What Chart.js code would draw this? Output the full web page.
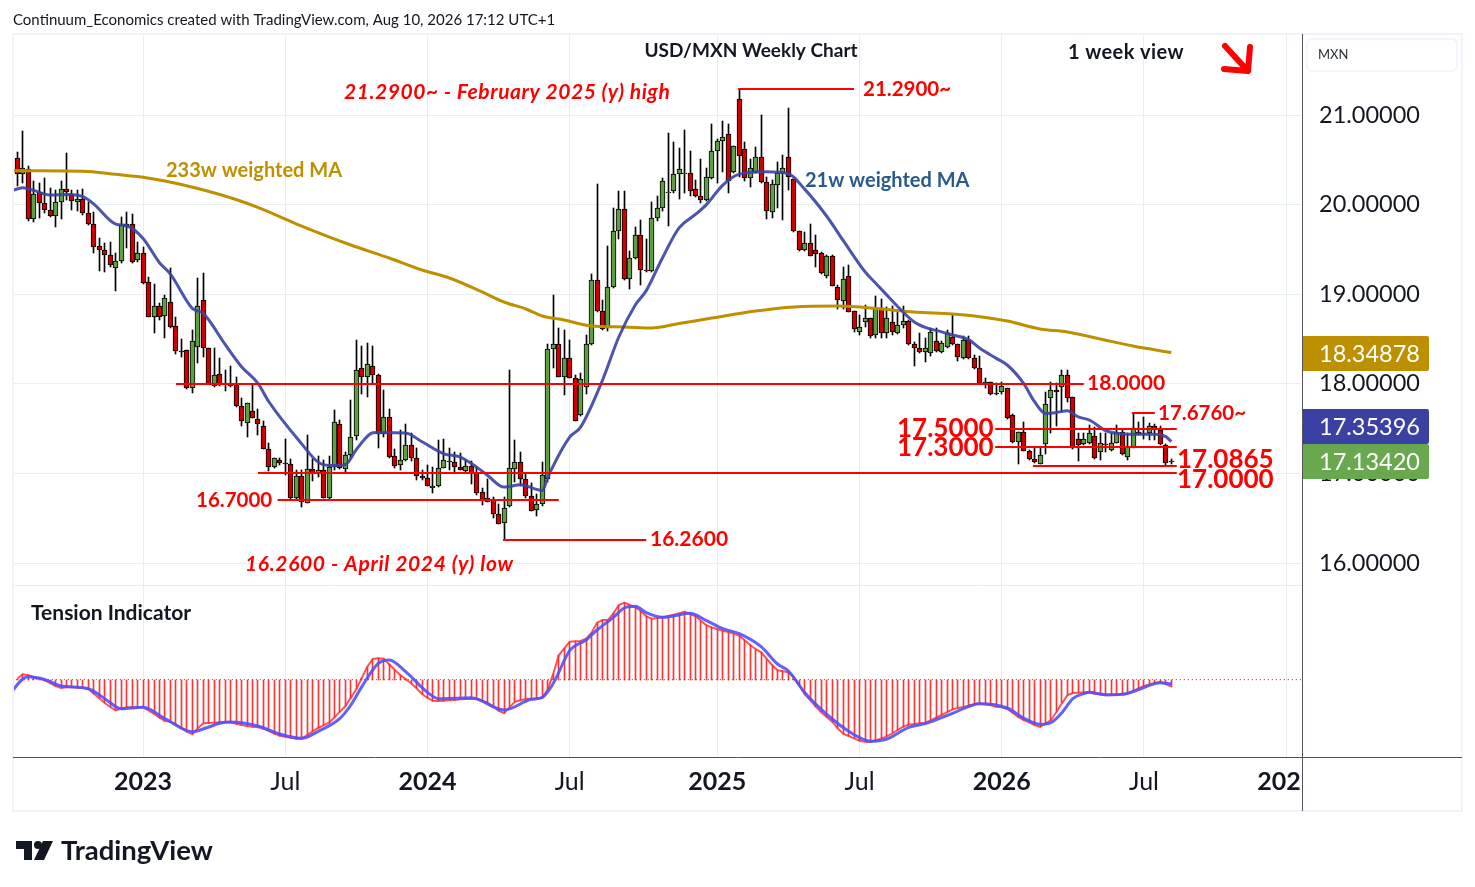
<!DOCTYPE html>
<html><head><meta charset="utf-8">
<style>html,body{margin:0;padding:0;background:#fff;overflow:hidden}canvas{display:block}</style>
<script src="https://cdn.jsdelivr.net/npm/chart.js@4/dist/chart.umd.js"></script>
</head><body><canvas id="c" width="1475" height="887"></canvas>
<script>
const FONT='Lato';
const open=[20.516,20.341,20.397,19.835,20.144,20.014,19.936,19.876,20.025,20.177,
20.122,20.025,20.058,19.91,19.779,19.534,19.489,19.433,19.288,19.374,
19.746,19.779,19.378,19.456,19.132,18.749,18.864,18.753,18.909,18.641,
18.37,18.373,17.949,18.407,18.931,18.396,17.972,18.105,18.005,17.988,
17.986,17.748,17.559,17.693,17.603,17.525,17.268,17.068,17.146,17.112,
17.107,16.724,16.973,16.672,17.052,16.988,17.04,16.724,17.074,17.554,
17.052,17.208,17.42,18.179,18.078,18.201,18.101,17.442,17.632,17.197,
17.093,17.152,17.319,17.174,16.973,16.951,16.836,16.862,17.063,17.135,
17.13,17.074,17.029,17.085,17.007,16.795,16.683,16.713,16.549,16.449,
16.631,17.048,17.13,16.94,16.75,16.594,16.661,16.936,18.391,18.447,
18.078,18.29,18.067,17.654,17.96,18.44,19.154,18.808,18.619,19.076,
19.701,19.947,19.165,19.4,19.656,19.266,19.255,19.846,19.958,20.125,
20.148,20.337,20.337,20.348,20.17,20.092,20.047,20.293,20.594,20.706,
20.784,20.367,21.178,20.616,20.293,20.36,20.527,20.248,19.913,20.214,
20.348,20.527,20.281,19.701,19.489,19.567,19.489,19.455,19.199,19.422,
19.076,18.928,19.203,18.809,18.574,18.693,18.731,18.541,18.842,18.563,
18.686,18.563,18.652,18.697,18.44,18.396,18.351,18.34,18.474,18.359,
18.407,18.519,18.44,18.284,18.485,18.284,18.173,17.998,18.024,17.895,
17.905,17.95,17.648,17.347,17.459,17.254,17.157,17.109,17.325,17.845,
17.927,17.968,18.098,17.849,17.38,17.325,17.343,17.414,17.235,17.33,
17.261,17.343,17.459,17.187,17.295,17.459,17.455,17.451,17.533,17.485,
17.317,17.14];
const close=[20.341,20.412,19.835,20.114,20.014,19.936,19.876,20.025,20.17,20.137,
20.036,20.058,19.91,19.779,19.523,19.489,19.433,19.322,19.374,19.768,
19.779,19.355,19.456,19.121,18.749,18.864,18.742,18.954,18.63,18.362,
18.358,17.949,18.474,18.864,18.396,17.998,18.094,17.983,17.995,17.978,
17.748,17.581,17.782,17.614,17.547,17.276,17.068,17.168,17.112,17.102,
16.724,16.973,16.676,17.052,16.996,17.04,16.724,17.074,17.576,17.063,
17.208,17.409,18.156,18.078,18.22,18.101,17.442,17.632,17.186,17.085,
17.152,17.319,17.171,16.973,16.951,16.858,16.862,17.063,17.152,17.125,
17.074,17.04,17.085,17.007,16.784,16.706,16.728,16.549,16.438,16.616,
17.063,17.13,16.94,16.75,16.583,16.661,16.985,18.391,18.447,18.078,
18.29,18.067,17.587,18.05,18.444,19.154,18.808,18.615,19.076,19.701,
19.947,19.165,19.4,19.656,19.266,19.262,19.846,19.958,20.259,20.144,
20.337,20.393,20.356,20.148,20.092,20.047,20.311,20.594,20.706,20.75,
20.259,20.65,20.538,20.293,20.404,20.527,20.252,19.924,20.226,20.348,
20.404,20.304,19.701,19.489,19.567,19.43,19.452,19.232,19.422,19.095,
18.931,19.166,18.805,18.615,18.63,18.731,18.537,18.842,18.563,18.731,
18.574,18.652,18.697,18.44,18.396,18.351,18.396,18.574,18.362,18.452,
18.563,18.444,18.295,18.485,18.284,18.173,18.001,18.024,17.89,17.885,
17.972,17.615,17.347,17.459,17.254,17.157,17.124,17.206,17.771,17.927,
17.905,18.098,17.845,17.287,17.317,17.38,17.451,17.168,17.336,17.32,
17.343,17.459,17.213,17.291,17.503,17.44,17.445,17.533,17.485,17.325,
17.113,17.134];
const high=[20.583,20.821,20.434,20.263,20.237,20.293,20.181,20.163,20.263,20.576,
20.163,20.163,20.174,20.032,19.913,19.623,19.567,19.586,19.456,19.858,
19.913,19.891,19.579,19.53,19.195,19.114,18.905,18.987,19.288,18.742,
18.503,18.373,18.6,19.181,19.233,18.396,18.396,18.284,18.154,18.198,
18.072,17.838,17.782,17.983,17.715,17.588,17.335,17.17,17.168,17.386,
17.163,17.04,17.033,17.424,17.163,17.197,17.145,17.197,17.703,17.591,
17.241,17.814,18.484,18.417,18.461,18.417,18.112,17.933,17.721,17.267,
17.487,17.554,17.453,17.286,17.033,17.096,17.066,17.375,17.379,17.279,
17.238,17.223,17.145,17.133,17.07,16.84,16.94,16.735,16.661,16.735,
18.149,17.375,17.241,16.996,16.895,16.773,17.122,18.447,18.986,18.625,
18.595,18.484,18.093,18.12,18.545,19.225,20.229,18.935,19.537,19.958,
20.151,20.151,19.485,19.753,19.828,19.612,20.032,20.095,20.293,20.802,
20.698,20.627,20.832,20.598,20.274,20.508,20.404,20.899,20.728,20.929,
20.895,20.657,21.29,20.698,20.512,20.639,20.999,20.311,20.274,20.479,
20.553,21.074,20.289,19.709,19.697,19.783,19.66,19.467,19.441,19.437,
19.102,19.3,19.33,18.809,18.768,18.879,18.731,18.98,18.943,18.861,
18.868,18.805,18.868,18.712,18.47,18.563,18.507,18.619,18.619,18.481,
18.6,18.764,18.444,18.533,18.533,18.321,18.31,18.061,18.024,18.005,
18.024,17.957,17.659,17.466,17.57,17.261,17.28,17.299,17.912,18.024,
18.013,18.154,18.154,17.849,17.447,17.455,17.54,17.522,17.447,17.447,
17.447,17.54,17.485,17.447,17.678,17.578,17.633,17.559,17.548,17.529,
17.332,17.157];
const low=[20.211,20.244,19.82,19.809,19.85,19.91,19.865,19.753,19.843,20.051,
19.939,19.925,19.887,19.776,19.463,19.262,19.247,19.3,19.039,19.344,
19.515,19.344,19.355,19.114,18.742,18.57,18.712,18.515,18.622,18.332,
18.303,17.945,17.901,18.236,18.303,17.998,17.968,17.975,17.923,17.96,
17.745,17.533,17.41,17.614,17.428,17.268,17.03,17.056,17.094,16.98,
16.713,16.698,16.624,16.668,16.914,16.959,16.72,16.713,17.033,17.052,
17.011,17.174,17.368,17.881,17.851,18.0,17.286,17.405,17.174,17.055,
17.033,17.144,17.137,16.921,16.93,16.854,16.78,16.847,17.055,17.033,
17.011,17.033,17.018,16.884,16.754,16.646,16.676,16.505,16.43,16.26,
16.624,16.899,16.854,16.728,16.575,16.52,16.635,16.907,18.179,18.075,
17.874,18.06,17.583,17.64,17.886,18.433,18.805,18.6,18.593,19.065,
19.612,19.158,19.061,19.392,19.102,19.251,19.247,19.82,19.928,19.764,
20.125,20.066,20.125,20.095,20.088,20.021,20.043,20.289,20.237,20.36,
20.133,20.348,20.311,20.267,20.2,20.348,20.244,19.842,19.854,19.958,
19.828,20.162,19.697,19.485,19.485,19.426,19.307,19.225,19.184,19.091,
18.831,18.83,18.805,18.578,18.545,18.63,18.515,18.507,18.507,18.507,
18.545,18.556,18.619,18.433,18.202,18.34,18.243,18.31,18.355,18.348,
18.396,18.437,18.258,18.28,18.28,18.169,17.998,17.949,17.875,17.875,
17.883,17.607,17.343,17.101,17.25,17.15,17.116,17.101,17.22,17.451,
17.529,17.689,17.793,17.272,17.139,17.317,17.332,17.16,17.15,17.235,
17.25,17.336,17.206,17.15,17.287,17.429,17.384,17.373,17.373,17.317,
17.094,17.11];
const ma233Weeks=[-1,0,12,18,23,27,33,40,44,49,52,61,68,74,79,85,89,93,96,100,103,105,111,116,121,127,135,142,150,158,164,171,175,181,187,192,198,204,211];
const ma233Vals=[20.38,20.378,20.372,20.338,20.305,20.263,20.18,20.057,19.968,19.839,19.761,19.549,19.404,19.27,19.181,19.025,18.913,18.835,18.757,18.712,18.667,18.645,18.634,18.623,18.673,18.734,18.812,18.857,18.868,18.835,18.801,18.779,18.757,18.701,18.612,18.578,18.5,18.422,18.349];
const ma21Weeks=[-1,1,3,6,9,12,14,18,20,23,26,28,32,34,38,41,44,46,52,55,57,60,62,65,66,71,74,78,81,84,86,89,92,96,97,101,103,107,110,113,115,118,121,124,126,129,132,137,141,144,148,151,155,157,159,161,164,166,169,171,174,176,179,181,184,186,188,190,192,194,196,199,201,204,208,210,211];
const ma21Vals=[20.155,20.189,20.159,20.107,20.114,20.088,20.006,19.783,19.764,19.623,19.351,19.225,18.842,18.786,18.44,18.191,18.005,17.8,17.33,17.126,17.089,17.1,17.267,17.453,17.457,17.45,17.353,17.219,17.182,17.07,16.977,16.847,16.873,16.81,16.958,17.405,17.517,18.04,18.525,18.879,19.04,19.41,19.74,19.89,20.0,20.218,20.34,20.367,20.345,20.17,19.87,19.6,19.25,19.12,18.99,18.86,18.69,18.63,18.58,18.545,18.49,18.396,18.284,18.21,18.005,17.8,17.67,17.68,17.7,17.63,17.596,17.477,17.447,17.436,17.436,17.41,17.354];
const tensionFast=[3,16,13,8,3,-2,-10,-19,-25,-23,
-22,-24,-25,-29,-42,-56,-70,-82,-92,-87,
-83,-83,-83,-83,-92,-103,-114,-124,-126,-134,
-145,-156,-164,-146,-131,-130,-129,-128,-127,-128,
-132,-136,-139,-141,-143,-147,-154,-162,-168,-171,
-174,-177,-177,-166,-155,-145,-137,-129,-113,-96,
-79,-54,-29,6,39,62,64,63,46,30,
14,2,-11,-26,-43,-55,-63,-64,-63,-62,
-61,-59,-58,-57,-58,-64,-70,-80,-93,-101,
-83,-66,-62,-58,-57,-56,-54,-28,18,73,
94,114,115,116,123,141,171,179,179,199,
224,231,224,217,206,190,183,185,187,191,
195,199,204,197,190,177,163,157,152,147,
143,138,132,118,104,92,82,63,44,28,
25,22,7,-17,-44,-62,-81,-98,-112,-126,
-146,-162,-169,-176,-183,-186,-187,-182,-176,-170,
-161,-151,-141,-135,-133,-131,-129,-122,-114,-106,
-98,-89,-85,-82,-78,-74,-71,-74,-77,-81,
-83,-88,-99,-112,-121,-128,-136,-142,-132,-121,
-97,-71,-47,-40,-39,-38,-39,-42,-44,-47,
-47,-46,-44,-42,-34,-26,-19,-14,-9,-8,
-13,-21];
const tensionSlowWeeks=[-1,1,2,5,8,13,16,19,23,27,32,35,37,39,44,48,52,55,59,61,63,66,68,71,75,77,83,89,94,96,98,101,104,106,107,109,111,113,115,118,120,123,126,129,132,136,139,141,144,149,152,154,156,159,163,166,171,176,181,184,187,189,191,193,195,196,199,202,204,208,209,211];
const tensionSlow=[-35,2,9,1,-19,-27,-57,-87,-83,-117,-156,-142,-131,-127,-139,-163,-176,-155,-116,-76,-21,49,59,24,-38,-57,-54,-91,-59,-53,-11,87,119,149,162,187,215,220,201,187,191,199,177,153,138,99,47,26,-39,-118,-155,-174,-185,-178,-143,-132,-101,-72,-85,-115,-134,-129,-99,-57,-42,-38,-45,-44,-36,-12,-9,-13];
const priceTicks=[16,17,18,19,20,21];
const timeTickWeeks=[23,49,75,101,128,154,180,206,232];
const timeTickLabels=['2023','Jul','2024','Jul','2025','Jul','2026','Jul','2027'];
const levelValues=[18,17,16.7,17.5,17.3,17.0865,21.29,16.26,17.676];
const levelFrom=[29,44,47.6,178.8,178.8,185.7,131.8,88.8,203.8];
const levelTo=[195,212,99,212,212,212,153,115,208];

const RED='#ff0000';
const weeks=open.map((_,i)=>i);
const toPts=(xs,ys)=>xs.map((x,i)=>({x,y:ys[i]}));
// text, x, y, font, colour, align, letter spacing
const textItems=[
 ['Continuum_Economics created with TradingView.com, Aug 10, 2026 17:12 UTC+1',13,20,'400 15px','#131722','left',0],
 ['USD/MXN Weekly Chart',751,51,'700 19px','#131722','center',0],
 ['1 week view',1068,53,'700 20px','#131722','left',.4],
 ['21.2900~ - February 2025 (y) high',344,92,'italic 700 21px',RED,'left',.55],
 ['21.2900~',863,89,'700 20.5px',RED,'left',0],
 ['233w weighted MA',166,171,'700 20px','#bd9000','left',0],
 ['21w weighted MA',805,181,'700 20px','#2a5a8c','left',0],
 ['18.0000',1087,383,'700 21px',RED,'left',0],
 ['17.6760~',1158,413,'700 20.5px',RED,'left',0],
 ['17.5000',897,429,'700 26px',RED,'left',0],
 ['17.3000',897,448,'700 26px',RED,'left',0],
 ['17.0865',1177,460,'700 26px',RED,'left',0],
 ['17.0000',1177,480,'700 26px',RED,'left',0],
 ['16.7000',196,500,'700 20.5px',RED,'left',0],
 ['16.2600',650,539,'700 21px',RED,'left',0],
 ['16.2600 - April 2024 (y) low',245,564,'italic 700 21px',RED,'left',.65],
 ['Tension Indicator',31,613,'700 21px','#131722','left',0],
 ['MXN',1318,55,'400 13px','#2a2e39','left',0],
 ['TradingView',61,851,'700 27.5px','#131722','left',0]
];
const badges=[['18.34878',336,'#bd9000'],['17.35396',409,'#3a41a3'],['17.13420',444,'#6aa84f']];

const decor={
 id:'decor',
 afterDatasetsUpdate(chart){
  chart.data.datasets.forEach((ds,di)=>{
   const els=chart.getDatasetMeta(di).data;
   if(ds.type==='bar'){
    els.forEach(el=>{
     el.x=Math.floor(el.x)+.5;
     el.y=Math.round(el.y);el.base=Math.round(el.base);
     if(el.y===el.base)el.base=el.y+1;
    });
   }else if(ds.crisp){els.forEach(el=>{el.y=Math.round(el.y);});}
  });
 },
 afterDatasetsDraw(chart){
  const c=chart.ctx;
  c.save();c.fillStyle='#fff';c.fillRect(1301,20,174,800);c.restore();
 },
 afterDraw(chart){
  const c=chart.ctx;c.save();
  c.strokeStyle='#f0f3fa';c.lineWidth=2;c.strokeRect(13,34,1449,777);
  c.lineWidth=1;c.strokeStyle='#e8ebf0';c.beginPath();c.moveTo(13,585.5);c.lineTo(1303,585.5);c.stroke();
  c.strokeStyle='#50535e';c.beginPath();c.moveTo(1302.5,34);c.lineTo(1302.5,811);c.moveTo(13,757.5);c.lineTo(1462,757.5);c.stroke();
  // scale box
  c.strokeStyle='#f0f3fa';c.lineWidth=1.5;c.beginPath();c.roundRect(1307,39,150,32,5);c.stroke();
  // badges
  badges.forEach(([t,y,col])=>{c.fillStyle=col;c.beginPath();c.roundRect(1303,y,126,35,[0,2,2,0]);c.fill();
   c.fillStyle='#fff';c.font='400 23.5px '+FONT;c.textAlign='left';c.textBaseline='middle';c.fillText(t,1319,y+18);});
  // texts
  c.textBaseline='middle';
  textItems.forEach(([t,x,y,f,col,al,ls])=>{c.font=f+' '+FONT;c.fillStyle=col;c.textAlign=al;c.letterSpacing=ls+'px';c.fillText(t,x,y);});
  c.letterSpacing='0px';
  // arrow
  c.strokeStyle=RED;c.lineWidth=6;c.lineCap='round';c.lineJoin='round';c.beginPath();
  c.moveTo(1225,46);c.lineTo(1248,71);c.moveTo(1250,47);c.lineTo(1248,71);c.lineTo(1224,69);c.stroke();
  // logo
  c.fillStyle='#131722';c.beginPath();
  c.moveTo(16,841);c.lineTo(32,841);c.lineTo(32,860);c.lineTo(24,860);c.lineTo(24,849);c.lineTo(16,849);c.closePath();c.fill();
  c.beginPath();c.arc(38,845,4,0,Math.PI*2);c.fill();
  c.beginPath();c.moveTo(43,841);c.lineTo(53,841);c.lineTo(44,860);c.lineTo(34,860);c.closePath();c.fill();
  c.restore();
 }
};

const levelSets=levelValues.map((v,i)=>({type:'line',crisp:true,data:[{x:levelFrom[i],y:v},{x:levelTo[i],y:v}],borderColor:RED,borderWidth:2,pointRadius:0,yAxisID:'y',order:0}));

new Chart(document.getElementById('c'),{
 type:'line',
 plugins:[decor],
 data:{datasets:[
  ...levelSets,
  {type:'line',data:toPts(ma21Weeks,ma21Vals),borderColor:'rgba(58,65,163,.9)',borderWidth:3,pointRadius:0,yAxisID:'y',order:1,cubicInterpolationMode:'monotone'},
  {type:'line',data:toPts(ma233Weeks,ma233Vals),borderColor:'#bd9000',borderWidth:3,pointRadius:0,yAxisID:'y',order:1,cubicInterpolationMode:'monotone'},
  {type:'bar',data:weeks.map(i=>({x:i,y:[open[i],close[i]]})),barThickness:5,grouped:false,borderWidth:1,borderColor:'#000',borderSkipped:false,
   backgroundColor:c=>{const i=c.dataIndex;return close[i]>=open[i]?'#5e9e45':'#cc0000';},yAxisID:'y',order:2},
  {type:'bar',data:weeks.map(i=>({x:i,y:[low[i],high[i]]})),barThickness:1,grouped:false,backgroundColor:'#000',borderWidth:0,yAxisID:'y',order:3},
  {type:'line',data:[{x:-1,y:0},{x:236,y:0}],borderColor:RED,borderWidth:1,borderDash:[1,3],pointRadius:0,yAxisID:'yT',order:6},
  {type:'line',data:toPts(tensionSlowWeeks,tensionSlow),borderColor:'rgba(80,80,255,.9)',borderWidth:3,pointRadius:0,yAxisID:'yT',order:4,cubicInterpolationMode:'monotone'},
  {type:'line',data:toPts(weeks,tensionFast),borderColor:'rgba(255,40,40,.8)',borderWidth:2,pointRadius:0,yAxisID:'yT',order:5},
  {type:'bar',data:toPts(weeks,tensionFast),barThickness:1,grouped:false,backgroundColor:'rgba(255,30,30,.9)',borderWidth:0,yAxisID:'yT',order:6}
 ]},
 options:{
  responsive:false,devicePixelRatio:1,animation:false,
  layout:{autoPadding:false,padding:{left:13,right:13,top:34,bottom:76}},
  plugins:{legend:{display:false},tooltip:{enabled:false},title:{display:false}},
  scales:{
   x:{type:'linear',offset:false,min:-0.786,max:234.9,
    afterBuildTicks:s=>{s.ticks=timeTickWeeks.map(value=>({value}));},
    afterFit:s=>{s.height=54;},
    grid:{offset:false,color:'#e6edf4',drawTicks:false},
    border:{display:false},
    ticks:{z:0,autoSkip:false,maxRotation:0,minRotation:0,padding:10,color:'#131722',
     callback:v=>timeTickLabels[timeTickWeeks.indexOf(v)],
     font:c=>{const l=c.tick&&c.tick.label;return l==='Jul'?{family:FONT,size:25,weight:'400'}:{family:FONT,size:25,weight:'700'};}}
   },
   y:{type:'linear',position:'right',min:13.835,max:21.904,
    afterBuildTicks:s=>{s.ticks=priceTicks.map(value=>({value}));},
    afterFit:s=>{s.width=160;},
    grid:{color:'#e6edf4',drawTicks:false},
    border:{display:false},
    ticks:{z:1,padding:17,color:'#131722',font:{family:FONT,size:23.5,weight:'400'},callback:v=>v.toFixed(5)}
   },
   yT:{type:'linear',display:false,position:'right',min:-232,max:1937}
  }
 }
});
</script></body></html>
